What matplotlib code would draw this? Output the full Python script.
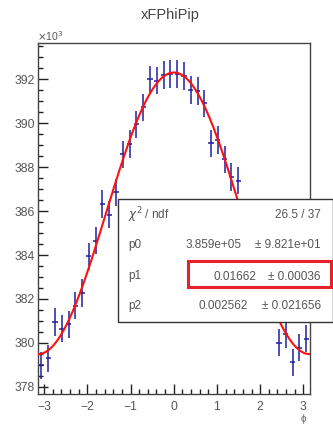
import numpy as np
import matplotlib
matplotlib.use("Agg")
import matplotlib.pyplot as plt
from matplotlib.ticker import MultipleLocator
from matplotlib.patches import Rectangle

# ---- data (counts in units of 10^3) ----
n_bins = 40
phi_min, phi_max = -np.pi, np.pi
counts_k = [378.98, 379.30, 380.95, 380.64, 380.85, 381.70, 382.27, 383.94, 384.66, 386.33,
            385.83, 386.85, 388.59, 389.06, 389.95, 390.73, 392.00, 391.94, 392.20, 392.24,
            392.24, 392.15, 391.51, 391.48, 390.91, 389.09, 389.24, 388.36, 387.55, 387.38,
            385.40, 384.40, 383.40, 382.55, 381.50, 380.00, 380.38, 379.12, 379.77, 380.18]

# fit parameters shown in the stats box
p0, p0_err = 3.859e+05, 9.821e+01
p1, p1_err = 0.01662, 0.00036
p2, p2_err = 0.002562, 0.021656
chi2_text = "26.5 / 37"

title = "xFPhiPip"
xlabel = "ϕ"

edges = np.linspace(phi_min, phi_max, n_bins + 1)
centers = 0.5 * (edges[:-1] + edges[1:])
vals = np.array(counts_k)
errs = np.sqrt(vals * 1000.0) / 1000.0

plt.rcParams['font.family'] = ['Liberation Sans', 'DejaVu Sans']

fig = plt.figure(figsize=(3.33, 4.25), dpi=100)
ax = fig.add_axes([38/333, 1 - 394/425, (309.5 - 38)/333, (394 - 42.7)/425])

ax.errorbar(centers, vals, yerr=errs, xerr=0.06, fmt='none', ecolor='#1f1f9e',
            elinewidth=1.1, capsize=0, zorder=2)

xf = np.linspace(phi_min, phi_max, 400)
yf = p0 * (1 + p1 * np.cos(xf - p2)) / 1000.0
ax.plot(xf, yf, color='#ff1010', lw=1.5, zorder=3)

ax.set_xlim(phi_min, phi_max)
ax.set_ylim(377.67, 393.67)

ax.xaxis.set_major_locator(MultipleLocator(1))
ax.xaxis.set_minor_locator(MultipleLocator(0.2))
ax.yaxis.set_major_locator(MultipleLocator(2))
ax.yaxis.set_minor_locator(MultipleLocator(0.5))
ax.tick_params(which='both', direction='in', top=False, right=False, colors='#222222',
               labelcolor='#555555', labelsize=8.7)
ax.tick_params(which='major', length=7, width=1)
ax.tick_params(which='minor', length=3.5, width=1)
ax.tick_params(axis='x', pad=5)
ax.tick_params(axis='y', pad=2)
ax.xaxis.set_major_formatter(matplotlib.ticker.FuncFormatter(
    lambda v, p: ("\u2212%d" % abs(round(v))) if v < -0.01 else "%d" % round(v)))
for s in ax.spines.values():
    s.set_color('#444444')
    s.set_linewidth(1.0)

fig.text(170/333, 1 - 15/425, title, ha='center', va='center', fontsize=10.5, color='#444444')
fig.text(37/333, 1 - 36/425, r"$\times$10$^{3}$", ha='left', va='center', fontsize=7.5, color='#555555')
fig.text(303/333, 1 - 419/425, xlabel, ha='center', va='center', fontsize=7, color='#666666')

# stats box
bx0, by0, bx1, by1 = 118.3, 199, 333.5, 321.7
box = Rectangle((bx0/333, 1 - by1/425), (bx1 - bx0)/333, (by1 - by0)/425,
                transform=fig.transFigure, facecolor='white', edgecolor='#333333',
                lw=1.0, zorder=10)
fig.patches.append(box)
rows_y = [215, 245, 276.5, 306]
lab_x = 128.3
tcol = '#555555'
fs = 8.5
fig.text(lab_x/333, 1 - rows_y[0]/425, r"$\chi^{2}$ / ndf", ha='left', va='center',
         fontsize=fs, color=tcol, zorder=11)
fig.text(320.7/333, 1 - rows_y[0]/425, chi2_text, ha='right', va='center', fontsize=fs,
         color=tcol, zorder=11)
rows = [("p0", "%.3e" % p0, "± %.3e" % p0_err, 241.7),
        ("p1", "%.5f" % p1, "± %.5f" % p1_err, 256.0),
        ("p2", "%.6f" % p2, "± %.6f" % p2_err, 248.3)]
for (name, v, e, vx), y in zip(rows, rows_y[1:]):
    fig.text(lab_x/333, 1 - y/425, name, ha='left', va='center', fontsize=fs, color=tcol, zorder=11)
    fig.text(vx/333, 1 - y/425, v, ha='right', va='center', fontsize=fs, color=tcol, zorder=11)
    fig.text(320.7/333, 1 - y/425, e, ha='right', va='center', fontsize=fs, color=tcol, zorder=11)

hl = Rectangle((187.5/333, 1 - 286.5/425), (331 - 187.5)/333, (286.5 - 260.5)/425,
               transform=fig.transFigure, facecolor='none', edgecolor='#e8202a',
               lw=2.2, zorder=12)
fig.patches.append(hl)

fig.savefig("out.png", dpi=100, facecolor='white')
